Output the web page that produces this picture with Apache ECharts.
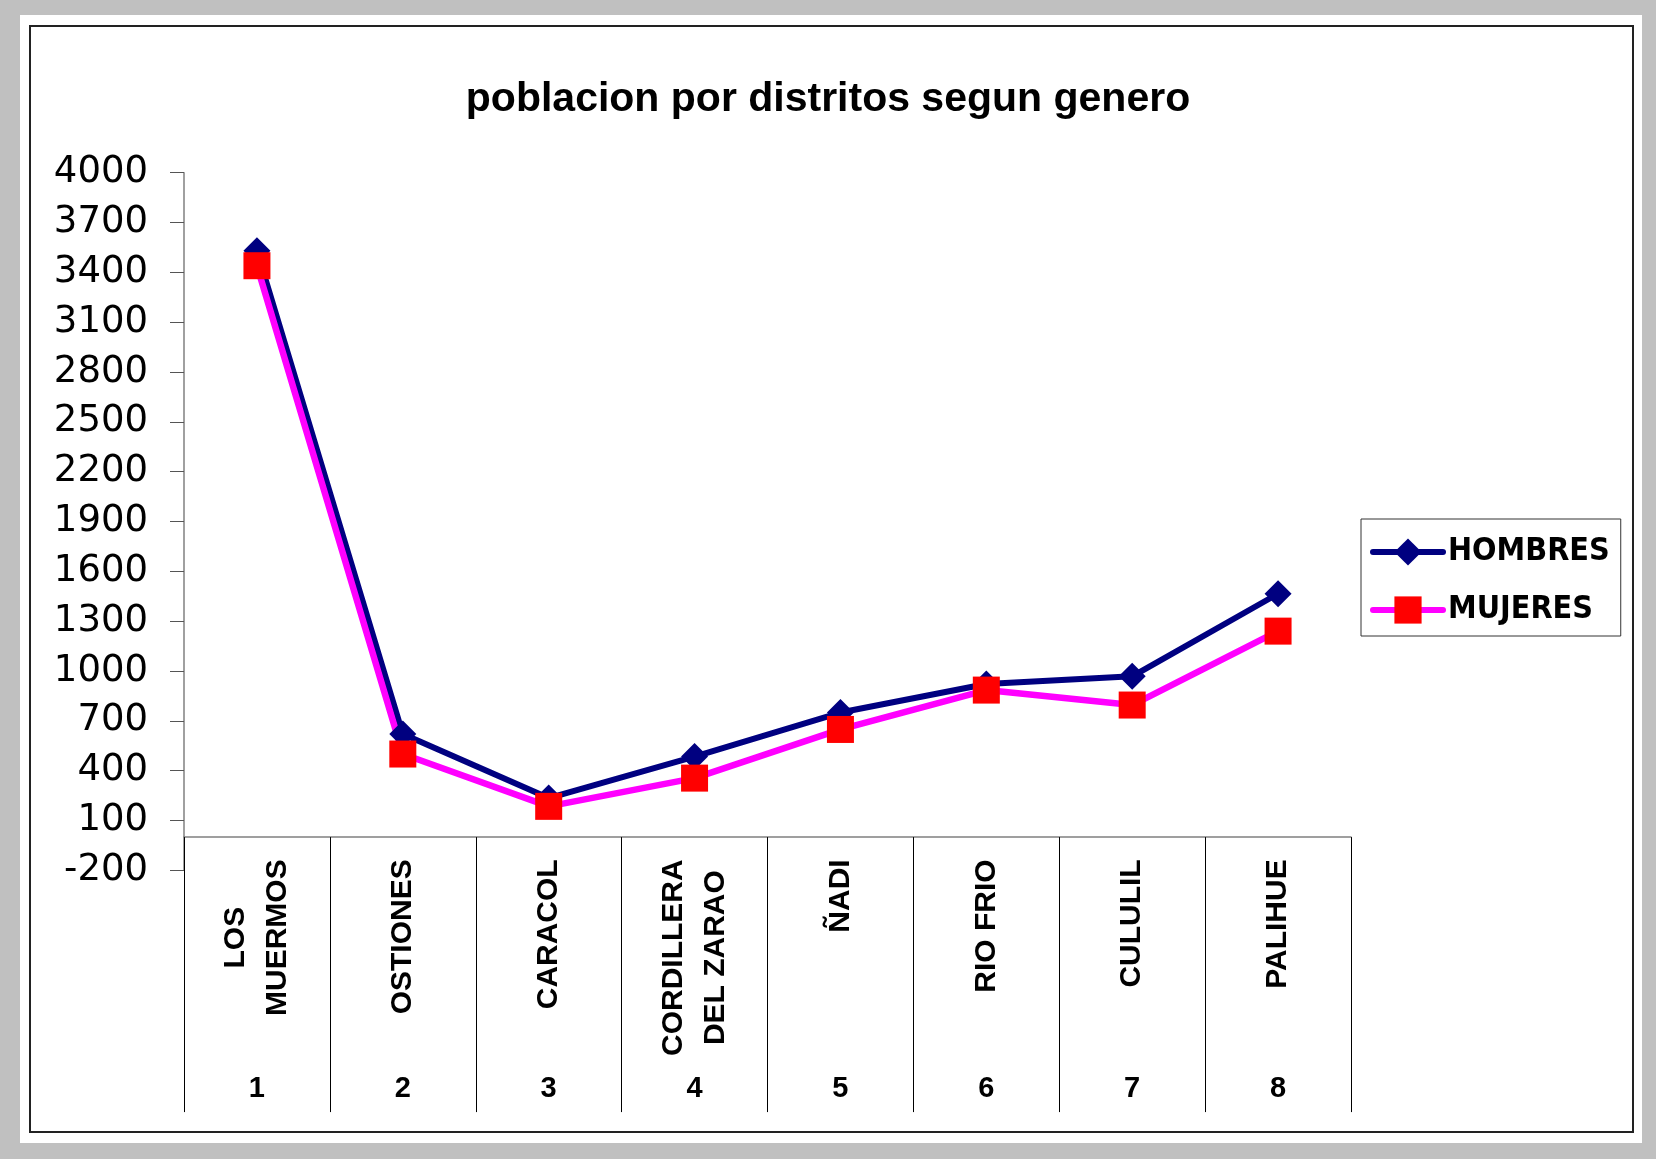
<!DOCTYPE html>
<html>
<head>
<meta charset="utf-8">
<script src="https://cdn.jsdelivr.net/npm/echarts@6/dist/echarts.min.js"></script>
<style>
  html, body { margin: 0; padding: 0; background: #c0c0c0; }
  #chart { width: 1656px; height: 1159px; }
</style>
</head>
<body>
<div id="chart"></div>
<script>
  // datos
  var distritos = ['LOS\nMUERMOS', 'OSTIONES', 'CARACOL', 'CORDILLERA\nDEL ZARAO', 'ÑADI', 'RIO FRIO', 'CULULIL', 'PALIHUE'];
  var numeros = ['1', '2', '3', '4', '5', '6', '7', '8'];
  var hombres = [3530, 620, 235, 485, 750, 922, 968, 1465];
  var mujeres = [3440, 500, 185, 355, 648, 885, 795, 1240];

  var fuenteNegrita = "'Comic Sans MS', 'Liberation Sans', sans-serif";

  var myChart = echarts.init(document.getElementById('chart'));
  myChart.setOption({
    animation: false,
    backgroundColor: '#c0c0c0',
    graphic: [
      { type: 'rect', z: -20, silent: true, shape: { x: 20, y: 15, width: 1622, height: 1128 }, style: { fill: '#fff' } },
      { type: 'rect', z: -10, silent: true, shape: { x: 30, y: 26, width: 1603, height: 1106 }, style: { fill: '#fff', stroke: '#222', lineWidth: 2 } }
    ],
    title: {
      text: 'poblacion por distritos segun genero',
      left: 'center',
      top: 79,
      padding: 0,
      textStyle: { fontFamily: fuenteNegrita, fontWeight: 'bold', fontSize: 41, color: '#000' }
    },
    legend: {
      data: ['HOMBRES', 'MUJERES'],
      orient: 'vertical',
      left: 1361,
      top: 519,
      padding: [17, 11, 10, 9],
      itemWidth: 70,
      itemHeight: 34,
      itemGap: 26,
      borderColor: '#333',
      borderWidth: 1,
      backgroundColor: '#fff',
      lineStyle: { cap: 'round', width: 6 },
      textStyle: { fontFamily: "'Liberation Sans Narrow', 'DejaVu Sans Condensed', sans-serif", fontWeight: 'bold', fontSize: 32, color: '#000' }
    },
    grid: { left: 184, right: 305, top: 172.7, bottom: 288.7, containLabel: false },
    xAxis: [
      {
        type: 'category',
        data: distritos,
        boundaryGap: true,
        axisLine: { onZero: true, lineStyle: { color: '#808080', width: 1.5 } },
        axisTick: { show: true, interval: 0, length: 275, lineStyle: { color: '#000', width: 1 } },
        axisLabel: {
          interval: 0,
          rotate: 90,
          margin: -11,
          formatter: function (v) {
            return v.split('\n').map(function (s) { return '{c|' + s + '}'; }).join('\n');
          },
          rich: {
            c: { align: 'center', fontFamily: fuenteNegrita, fontWeight: 'bold', fontSize: 30, lineHeight: 42, color: '#000' }
          }
        },
        splitLine: { show: false }
      },
      {
        type: 'category',
        data: numeros,
        position: 'bottom',
        axisLine: { show: false, onZero: false },
        axisTick: { show: false },
        axisLabel: { interval: 0, margin: 204, fontFamily: fuenteNegrita, fontWeight: 'bold', fontSize: 29, color: '#000' },
        splitLine: { show: false }
      }
    ],
    yAxis: {
      type: 'value',
      min: -200,
      max: 4000,
      interval: 300,
      axisLine: { show: true, lineStyle: { color: '#808080', width: 1.5 } },
      axisTick: { show: true, length: 14, lineStyle: { color: '#555', width: 1 } },
      axisLabel: {
        margin: 36,
        fontFamily: "'DejaVu Sans', sans-serif",
        fontSize: 37,
        color: '#000',
        formatter: function (v) { return String(v); }
      },
      splitLine: { show: false }
    },
    series: [
      {
        name: 'HOMBRES',
        type: 'line',
        data: hombres,
        symbol: 'diamond',
        symbolSize: 27,
        itemStyle: { color: '#000080' },
        lineStyle: { color: '#000080', width: 6 }
      },
      {
        name: 'MUJERES',
        type: 'line',
        data: mujeres,
        symbol: 'rect',
        symbolSize: 27,
        itemStyle: { color: '#ff0000' },
        lineStyle: { color: '#ff00ff', width: 6.5 }
      }
    ]
  });
</script>
</body>
</html>
